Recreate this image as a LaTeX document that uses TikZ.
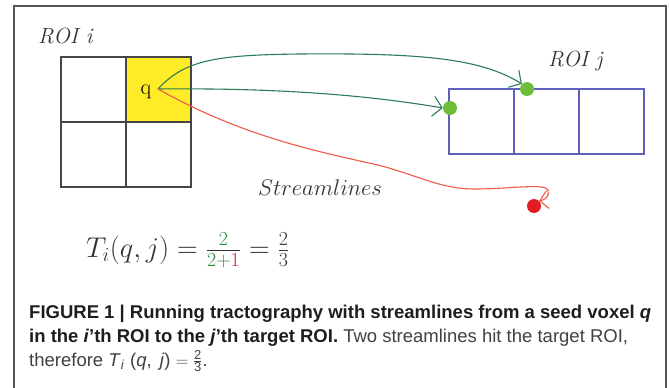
\documentclass[tikz,border=0pt]{standalone}
\usepackage{fontspec}
\usepackage{graphicx}
\usetikzlibrary{arrows.meta}
\newfontfamily\capfont{Liberation Sans}
\definecolor{framegray}{RGB}{85,85,85}
\definecolor{gridgray}{RGB}{70,70,70}
\definecolor{roiyellow}{RGB}{255,236,40}
\definecolor{roiblue}{RGB}{95,95,190}
\definecolor{slgreen}{RGB}{45,125,85}
\definecolor{dotgreen}{RGB}{110,190,60}
\definecolor{slred}{RGB}{240,90,70}
\definecolor{dotred}{RGB}{225,30,35}
\definecolor{fracgreen}{RGB}{40,140,60}
\definecolor{captxt}{RGB}{30,30,30}
\definecolor{capreg}{RGB}{65,65,65}
\begin{document}
\begin{tikzpicture}[x=1pt,y=-1pt,
  cellbox/.style={draw=gridgray,line width=1.4pt,minimum size=65pt,inner sep=0pt,outer sep=0pt},
  jbox/.style={draw=roiblue,line width=1.3pt,minimum size=65pt,inner sep=0pt,outer sep=0pt},
  greenline/.style={draw=slgreen,line width=1.1pt,-{Straight Barb[length=9pt,width=20pt,line width=1.1pt]}},
  redline/.style={draw=slred,line width=1.1pt,-{Straight Barb[length=8pt,width=18pt,line width=1.1pt]}},
  hitdot/.style={circle,fill=dotgreen,minimum size=14pt,inner sep=0pt},
  missdot/.style={circle,fill=dotred,minimum size=14pt,inner sep=0pt},
  lbl/.style={inner sep=0pt,anchor=base west,text=black!80}]
\useasboundingbox (0,0) rectangle (670,388);
\fill[white] (0,0) rectangle (670,388);
% frame
\draw[framegray,line width=1.3pt] (14,390) -- (14,6) -- (666,6) -- (666,390);
% ROI i
\node[cellbox] (a) at (93.5,89.5) {};
\node[cellbox,fill=roiyellow] (b) at (158.5,89.5) {};
\node[cellbox] (c) at (93.5,154.5) {};
\node[cellbox] (d) at (158.5,154.5) {};
\node[lbl,font=\fontsize{22}{26}\selectfont\itshape] (roii) at (38,43) {ROI i};
\node[inner sep=0pt,anchor=base,font=\fontsize{22}{24}\selectfont] (q) at (146,94) {q};
\coordinate (s) at (158,89);
% ROI j
\node[jbox] (j1) at (481.5,121.5) {};
\node[jbox] (j2) at (546.5,121.5) {};
\node[jbox] (j3) at (611.5,121.5) {};
\node[lbl,font=\fontsize{22}{26}\selectfont\itshape] (roij) at (548,66) {ROI j};
% dots
\node[hitdot] (h1) at (450,108) {};
\node[hitdot] (h2) at (527,89) {};
\node[missdot] (m1) at (534,206) {};
% streamlines
\draw[greenline] (s) .. controls (185,60) and (215,55) .. (300,54) .. controls (420,53) and (480,58) .. (h2.north west);
\draw[greenline] (s) .. controls (250,88) and (350,92) .. (h1.west);
\draw[redline] (s) .. controls (240,135) and (310,150) .. (378,165) .. controls (420,176) and (440,189) .. (475,189) .. controls (510,189) and (545,183) .. (548,190) .. controls (550,196) and (545,200) .. (m1.north east);
\node[lbl] (sl) at (258,195) {\scalebox{1.095}{\fontsize{20.74}{24}\selectfont$Streamlines$}};
% formula
\node[lbl] (f) at (86,257) {\scalebox{1.15}{\fontsize{24}{28}\selectfont$T_i(q,j)=\frac{\color{fracgreen}2}{\color{fracgreen}2+\color{dotred}1}=\frac{2}{3}$}};
% caption
\node[inner sep=0pt,anchor=base west,text=captxt] (c1) at (29,318) {\capfont\fontsize{18.5}{24}\selectfont\bfseries FIGURE 1 | Running tractography with streamlines from a seed voxel \textit{q}};
\node[inner sep=0pt,anchor=base west,text=captxt] (c2) at (29,342) {\capfont\fontsize{18.5}{24}\selectfont\textbf{in the \textit{i}’th ROI to the \textit{j}’th target ROI.} \color{capreg}Two streamlines hit the target ROI,};
\node[inner sep=0pt,anchor=base west,text=capreg] (c3) at (29,366) {\capfont\fontsize{18.5}{24}\selectfont therefore \textit{T}\raisebox{-0.35ex}{\fontsize{13}{14}\selectfont\textit{i}}\,\,(\textit{q},\, \textit{j}) $=\frac{\mbox{\capfont\fontsize{13}{14}\selectfont 2}}{\mbox{\capfont\fontsize{13}{14}\selectfont 3}}$.};
\end{tikzpicture}
\end{document}
